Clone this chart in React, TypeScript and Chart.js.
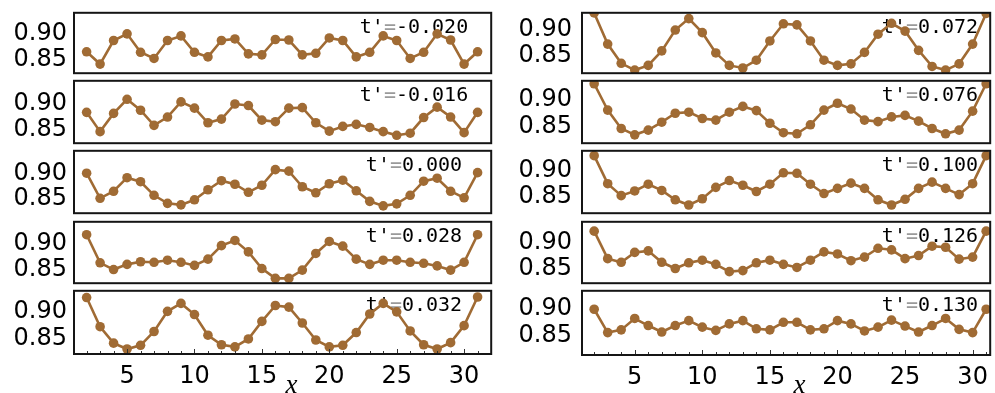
import React, { useEffect, useRef } from 'react';
import { Chart, registerables } from 'chart.js';

Chart.register(...registerables);

// ---------- data ----------
const xPositions = [2, 3, 4, 5, 6, 7, 8, 9, 10, 11, 12, 13, 14, 15, 16, 17, 18, 19, 20, 21, 22, 23, 24, 25, 26, 27, 28, 29, 30, 31];

const seriesTm020 = [0.865, 0.841, 0.887, 0.900, 0.864, 0.852, 0.887, 0.896, 0.864, 0.855, 0.887, 0.890, 0.861, 0.859, 0.889, 0.888, 0.859, 0.862, 0.892, 0.887, 0.855, 0.864, 0.896, 0.887, 0.852, 0.864, 0.900, 0.888, 0.841, 0.865];
const seriesTm016 = [0.884, 0.847, 0.882, 0.909, 0.888, 0.859, 0.875, 0.904, 0.892, 0.864, 0.871, 0.900, 0.897, 0.869, 0.866, 0.892, 0.893, 0.864, 0.848, 0.857, 0.861, 0.855, 0.847, 0.840, 0.844, 0.874, 0.894, 0.875, 0.845, 0.884];
const seriesT000 = [0.901, 0.851, 0.865, 0.892, 0.884, 0.857, 0.841, 0.838, 0.848, 0.868, 0.886, 0.879, 0.863, 0.877, 0.908, 0.905, 0.874, 0.862, 0.880, 0.887, 0.866, 0.845, 0.836, 0.840, 0.857, 0.885, 0.891, 0.865, 0.852, 0.902];
const seriesT028 = [0.918, 0.864, 0.851, 0.861, 0.866, 0.865, 0.869, 0.865, 0.859, 0.871, 0.897, 0.907, 0.885, 0.853, 0.834, 0.834, 0.850, 0.882, 0.905, 0.896, 0.871, 0.861, 0.869, 0.869, 0.865, 0.863, 0.858, 0.850, 0.865, 0.918];
const seriesT032 = [0.927, 0.872, 0.841, 0.830, 0.837, 0.863, 0.901, 0.916, 0.895, 0.856, 0.838, 0.834, 0.849, 0.882, 0.912, 0.909, 0.879, 0.847, 0.834, 0.837, 0.861, 0.896, 0.916, 0.900, 0.864, 0.838, 0.830, 0.842, 0.874, 0.928];
const seriesT072 = [0.932, 0.872, 0.835, 0.822, 0.831, 0.859, 0.899, 0.921, 0.894, 0.855, 0.831, 0.826, 0.841, 0.878, 0.911, 0.909, 0.878, 0.841, 0.831, 0.834, 0.856, 0.891, 0.912, 0.897, 0.860, 0.829, 0.822, 0.834, 0.872, 0.931];
const seriesT076 = [0.931, 0.881, 0.846, 0.834, 0.843, 0.858, 0.875, 0.877, 0.865, 0.862, 0.877, 0.888, 0.880, 0.856, 0.838, 0.836, 0.853, 0.881, 0.894, 0.883, 0.862, 0.859, 0.868, 0.871, 0.860, 0.846, 0.836, 0.843, 0.879, 0.931];
const seriesT100 = [0.929, 0.875, 0.852, 0.861, 0.874, 0.862, 0.844, 0.834, 0.846, 0.868, 0.881, 0.872, 0.860, 0.874, 0.896, 0.895, 0.874, 0.856, 0.866, 0.876, 0.866, 0.844, 0.834, 0.845, 0.866, 0.878, 0.866, 0.854, 0.875, 0.929];
const seriesT126 = [0.922, 0.869, 0.862, 0.881, 0.884, 0.862, 0.850, 0.861, 0.866, 0.858, 0.844, 0.846, 0.861, 0.866, 0.858, 0.852, 0.866, 0.882, 0.878, 0.865, 0.872, 0.889, 0.886, 0.869, 0.875, 0.893, 0.891, 0.868, 0.872, 0.922];
const seriesT130 = [0.899, 0.856, 0.861, 0.882, 0.869, 0.857, 0.869, 0.878, 0.866, 0.860, 0.872, 0.878, 0.863, 0.861, 0.875, 0.875, 0.861, 0.863, 0.878, 0.872, 0.859, 0.866, 0.879, 0.868, 0.857, 0.869, 0.882, 0.862, 0.856, 0.899];

const leftLabels = ['-0.020', '-0.016', '0.000', '0.028', '0.032'];
const rightLabels = ['0.072', '0.076', '0.100', '0.126', '0.130'];
const leftSeries = [seriesTm020, seriesTm016, seriesT000, seriesT028, seriesT032];
const rightSeries = [seriesT072, seriesT076, seriesT100, seriesT126, seriesT130];

const yTickValues = [0.85, 0.9];
const xTickValues = [5, 10, 15, 20, 25, 30];
const xAxisTitle = 'x';

// ---------- layout / style ----------
const BROWN = 'rgb(160,107,52)';
const TICK_FONT = { family: '"DejaVu Sans", sans-serif', size: 24 };
const PAGE_H = 393;

type Col = {
  canvasLeft: number; axisW: number; frameRight: number; tickPad: number;
  xMin: number; xMax: number; labelCenter: number;
  tops: number[]; bottoms: number[]; yMins: number[]; yMaxs: number[];
};

const leftCol: Col = {
  canvasLeft: 0, axisW: 74, frameRight: 494, tickPad: 7,
  xMin: 1.064, xMax: 32.01, labelCenter: 414,
  tops: [10, 78, 148, 219, 288], bottoms: [76, 146, 216, 286, 354],
  yMins: [0.8232, 0.8248, 0.8214, 0.8248, 0.8206],
  yMaxs: [0.9411, 0.9445, 0.9455, 0.9428, 0.9397],
};
const rightCol: Col = {
  canvasLeft: 500, axisW: 82, frameRight: 993, tickPad: 10,
  xMin: 1.1, xMax: 31.3, labelCenter: 930,
  tops: [10, 78, 148, 219, 288], bottoms: [76, 146, 216, 286, 355],
  yMins: [0.816, 0.8181, 0.8182, 0.8217, 0.8147],
  yMaxs: [0.9322, 0.9366, 0.9383, 0.940, 0.933],
};

type PanelProps = { col: Col; row: number; values: number[]; label: string; showX: boolean };

function Panel({ col, row, values, label, showX }: PanelProps) {
  const ref = useRef<HTMLCanvasElement>(null);
  const top = col.tops[row] - 2;
  const height = showX ? PAGE_H - top : col.bottoms[row] - col.tops[row] + 4;
  const width = col.frameRight + 2 - col.canvasLeft;
  const xAxisH = PAGE_H - col.bottoms[row];

  useEffect(() => {
    const deco = {
      id: 'deco',
      beforeDatasetsDraw(chart: any) {
        const { ctx, chartArea: a } = chart;
        ctx.save();
        ctx.font = '20px "DejaVu Sans Mono", monospace';
        ctx.textBaseline = 'middle';
        ctx.textAlign = 'left';
        const parts: [string, string][] = [["t'", '#000'], ['=', '#9a9a9a'], [label, '#000']];
        const total = parts.reduce((s, p) => s + ctx.measureText(p[0]).width, 0);
        let x = col.labelCenter - col.canvasLeft - total / 2;
        const y = a.top + 15;
        for (const [t, c] of parts) {
          ctx.fillStyle = c;
          ctx.fillText(t, x, y);
          x += ctx.measureText(t).width;
        }
        ctx.restore();
      },
      afterDraw(chart: any) {
        const { ctx, chartArea: a } = chart;
        ctx.save();
        if (showX) {
          const xs = chart.scales.x;
          ctx.strokeStyle = '#333';
          ctx.lineWidth = 1;
          for (let v = Math.ceil(col.xMin); v <= Math.floor(col.xMax); v++) {
            const px = Math.round(xs.getPixelForValue(v)) + 0.5;
            const len = v % 5 === 0 ? 5 : 3;
            ctx.beginPath();
            ctx.moveTo(px, a.bottom);
            ctx.lineTo(px, a.bottom - len);
            ctx.stroke();
          }
          ctx.fillStyle = '#000';
          ctx.font = 'italic 27px "Liberation Serif", serif';
          ctx.textAlign = 'center';
          ctx.textBaseline = 'alphabetic';
          ctx.fillText(xAxisTitle, xs.getPixelForValue(17.2), chart.height);
        }
        ctx.strokeStyle = '#151515';
        ctx.lineWidth = 2;
        ctx.strokeRect(a.left, a.top, a.right - a.left, a.bottom - a.top);
        ctx.restore();
      },
    };

    const chart = new Chart(ref.current as HTMLCanvasElement, {
      type: 'line',
      data: {
        datasets: [
          {
            data: xPositions.map((x, i) => ({ x, y: values[i] })),
            borderColor: BROWN,
            backgroundColor: BROWN,
            pointBackgroundColor: BROWN,
            pointBorderColor: BROWN,
            pointBorderWidth: 0,
            pointRadius: 4.8,
            borderWidth: 2.6,
            tension: 0,
          },
        ],
      },
      options: {
        animation: false,
        responsive: false,
        maintainAspectRatio: false,
        events: [],
        layout: { padding: { top: 2, right: 2, bottom: showX ? 0 : 2, left: 0 } },
        plugins: { legend: { display: false }, tooltip: { enabled: false } },
        scales: {
          x: {
            type: 'linear',
            min: col.xMin,
            max: col.xMax,
            display: showX,
            grid: { display: false, drawTicks: false },
            border: { display: false },
            ticks: { font: TICK_FONT, color: '#000', padding: 8, maxRotation: 0, autoSkip: false },
            afterBuildTicks: (s: any) => { s.ticks = xTickValues.map((v) => ({ value: v })); },
            afterFit: (s: any) => {
              s.height = showX ? xAxisH : 0;
              s.paddingLeft = 0;
              s.paddingRight = 0;
            },
          },
          y: {
            type: 'linear',
            min: col.yMins[row],
            max: col.yMaxs[row],
            grid: { display: false, drawTicks: false },
            border: { display: false },
            ticks: {
              font: TICK_FONT,
              color: '#000',
              padding: col.tickPad,
              callback: (v: any) => Number(v).toFixed(2),
            },
            afterBuildTicks: (s: any) => { s.ticks = yTickValues.map((v) => ({ value: v })); },
            afterFit: (s: any) => { s.width = col.axisW; s.paddingTop = 0; s.paddingBottom = 0; },
          },
        },
      } as any,
      plugins: [deco],
    });
    return () => chart.destroy();
  }, []);

  return (
    <canvas
      ref={ref}
      width={width}
      height={height}
      style={{ position: 'absolute', left: col.canvasLeft, top, width, height }}
    />
  );
}

export default function App() {
  return (
    <div style={{ position: 'absolute', left: 0, top: 0, width: 995, height: 393, background: '#fff', overflow: 'hidden' }}>
      {leftSeries.map((s, i) => (
        <Panel key={'l' + i} col={leftCol} row={i} values={s} label={leftLabels[i]} showX={i === 4} />
      ))}
      {rightSeries.map((s, i) => (
        <Panel key={'r' + i} col={rightCol} row={i} values={s} label={rightLabels[i]} showX={i === 4} />
      ))}
    </div>
  );
}
